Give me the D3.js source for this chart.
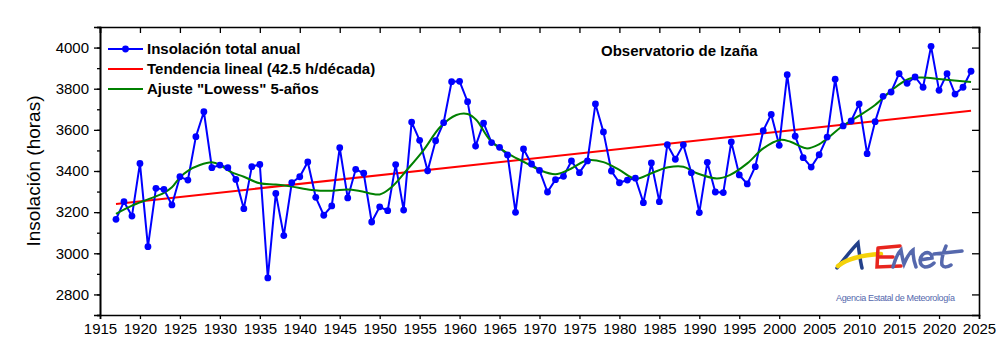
<!DOCTYPE html>
<html>
<head>
<meta charset="utf-8">
<script src="https://cdn.jsdelivr.net/npm/d3@7"></script>
<style>
  body { margin: 0; background: #fff; }
  text { font-family: Arial, "Liberation Sans", sans-serif; }
</style>
</head>
<body>
<div id="chart-area"></div>
<script>

// Annual insolation at Izaña (hours), 1917-2024
var firstYear = 1917
var insolation = [
  3165, 3251, 3181, 3437, 3032, 3316, 3311, 3235, 3372, 3356,
  3567, 3688, 3416, 3429, 3416, 3359, 3217, 3421, 3432, 2880,
  3291, 3086, 3343, 3372, 3444, 3272, 3185, 3230, 3513, 3269,
  3408, 3389, 3152, 3226, 3207, 3431, 3210, 3638, 3549, 3401,
  3547, 3635, 3834, 3836, 3737, 3521, 3633, 3538, 3515, 3478,
  3199, 3507, 3434, 3403, 3298, 3358, 3374, 3449, 3392, 3449,
  3726, 3590, 3400, 3343, 3356, 3365, 3246, 3439, 3251, 3528,
  3457, 3527, 3392, 3198, 3442, 3298, 3295, 3541, 3381, 3337,
  3421, 3596, 3675, 3525, 3868, 3569, 3465, 3419, 3479, 3565,
  3846, 3619, 3643, 3726, 3484, 3640, 3763, 3784, 3873, 3826,
  3857, 3807, 4006, 3792, 3873, 3774, 3807, 3885
]

// linear trend, end points
var trendYears = [1917, 2024]
var trendValues = [3240, 3693]

// "Lowess" 5-year smoothing, sampled along the green curve
var lowessYears = [1917, 1919, 1921, 1923, 1924, 1925, 1926, 1927.5, 1929, 1930,
  1931.3, 1933, 1935, 1937, 1939, 1941.5, 1944, 1946, 1947.5, 1950,
  1951.5, 1953.4, 1955.5, 1957.6, 1959.6, 1961, 1962.1, 1963.8, 1966, 1968,
  1970, 1972, 1973.6, 1976.1, 1978, 1980, 1982, 1984, 1986.1, 1988,
  1989.7, 1992.2, 1993.8, 1996, 1998, 2000.1, 2001.4, 2003.4, 2005, 2006.4,
  2007.8, 2009.8, 2012, 2014.1, 2016.2, 2017.8, 2020.3, 2024]
var lowessValues = [3192, 3232, 3262, 3294, 3321, 3369, 3401, 3429, 3442, 3430,
  3397, 3372, 3340, 3334, 3324, 3308, 3304, 3310, 3303, 3286,
  3322, 3405, 3502, 3615, 3672, 3677, 3648, 3551, 3486, 3445,
  3405, 3384, 3405, 3453, 3443, 3405, 3362, 3389, 3418, 3421,
  3389, 3364, 3380, 3437, 3510, 3551, 3542, 3510, 3530, 3570,
  3615, 3664, 3721, 3794, 3847, 3854, 3846, 3833]

var xTicks = d3.range(1915, 2026, 5)
var yTicks = [2800, 3000, 3200, 3400, 3600, 3800, 4000]
var yMinorTicks = d3.range(2700, 4101, 100)

var legendLabels = ['Insolación total anual', 'Tendencia lineal (42.5 h/década)', 'Ajuste "Lowess" 5-años']
var legendColors = ['#0000ff', '#ff0000', '#008000']

// SVG with margins
var margin = {left:100, right:20, top:27, bottom:46}
var W = 1000, H = 361
var width = W - margin.left - margin.right
var height = H - margin.top - margin.bottom

var svg = d3.select('#chart-area').append('svg')
  .attr('width', W)
  .attr('height', H)

var group = svg.append('g')
  .attr('transform', 'translate(' + margin.left + ',' + margin.top + ')')

// scales
var xScale = d3.scaleLinear().domain([1915, 2025]).range([0, width - 1])
var yScale = d3.scaleLinear().domain([2700, 4100]).range([height, 0])

// bottom axis
group.append('g')
  .attr('transform', 'translate(0,' + height + ')')
  .call(d3.axisBottom(xScale).tickValues(xTicks).tickFormat(d3.format('d')).tickSize(4).tickPadding(4))

// top axis, ticks pointing in
group.append('g')
  .call(d3.axisTop(xScale).tickValues(xTicks).tickFormat('').tickSize(-6))

// left axis with minor ticks
group.append('g')
  .call(d3.axisLeft(yScale).tickValues(yMinorTicks).tickFormat('').tickSize(3))
group.append('g')
  .call(d3.axisLeft(yScale).tickValues(yTicks).tickFormat(d3.format('d')).tickSize(6).tickPadding(5))

// right axis, ticks pointing in
group.append('g')
  .attr('transform', 'translate(' + (width - 1) + ',0)')
  .call(d3.axisRight(yScale).tickValues(yTicks).tickFormat('').tickSize(-7))

group.selectAll('.domain').attr('stroke', '#000').attr('stroke-width', 1.6)
group.selectAll('.tick line').attr('stroke', '#000').attr('stroke-width', 1.3)
group.selectAll('.tick text').attr('font-size', '15px').attr('fill', '#000')
  .style('font-family', 'Arial, "Liberation Sans", sans-serif')

// y label
svg.append('text')
  .attr('transform', 'rotate(-90)')
  .attr('x', -171)
  .attr('y', 40)
  .attr('font-size', '19px')
  .attr('text-anchor', 'middle')
  .attr('fill', '#000')
  .text('Insolación (horas)')

// lines
var line = d3.line()
  .x(function(d){ return xScale(d[0]) })
  .y(function(d){ return yScale(d[1]) })

var obs = insolation.map(function(v, i){ return [firstYear + i, v] })
var trend = trendYears.map(function(y, i){ return [y, trendValues[i]] })
var lowess = lowessYears.map(function(y, i){ return [y, lowessValues[i]] })

group.append('path')
  .attr('d', line(trend))
  .attr('fill', 'none')
  .attr('stroke', legendColors[1])
  .attr('stroke-width', 2)

group.append('path')
  .attr('d', line(obs))
  .attr('fill', 'none')
  .attr('stroke', legendColors[0])
  .attr('stroke-width', 2)

group.append('path')
  .attr('d', line.curve(d3.curveCatmullRom)(lowess))
  .attr('fill', 'none')
  .attr('stroke', legendColors[2])
  .attr('stroke-width', 2)

group.selectAll('circle.obs')
  .data(obs)
  .enter()
  .append('circle')
  .attr('class', 'obs')
  .attr('cx', function(d){ return xScale(d[0]) })
  .attr('cy', function(d){ return yScale(d[1]) })
  .attr('r', 3.4)
  .attr('fill', legendColors[0])

// legend
var legend = svg.append('g').attr('transform', 'translate(108,49)')

legend.selectAll('line')
  .data(legendLabels)
  .enter()
  .append('line')
  .attr('x1', 0).attr('x2', 35)
  .attr('y1', function(d, i){ return i * 20 })
  .attr('y2', function(d, i){ return i * 20 })
  .attr('stroke', function(d, i){ return legendColors[i] })
  .attr('stroke-width', 2)

legend.append('circle')
  .attr('cx', 17.5).attr('cy', 0).attr('r', 3.4)
  .attr('fill', legendColors[0])

legend.selectAll('text')
  .data(legendLabels)
  .enter()
  .append('text')
  .attr('x', 39)
  .attr('y', function(d, i){ return i * 20 + 5 })
  .attr('font-size', '15px')
  .attr('font-weight', 'bold')
  .attr('fill', '#000')
  .text(function(d){ return d })

svg.append('text')
  .attr('x', 601)
  .attr('y', 56)
  .attr('font-size', '15px')
  .attr('font-weight', 'bold')
  .attr('fill', '#000')
  .text('Observatorio de Izaña')

// AEMET logo, rough sketch
var logo = svg.append('g').attr('fill', 'none').attr('stroke-linecap', 'round')
logo.append('path')
  .attr('d', 'M837,268 C845,258 852,249 858,243 C859,251 860,260 862,268')
  .attr('stroke', '#22408a').attr('stroke-width', 3.5)
logo.append('path')
  .attr('d', 'M838,266 C848,258 862,255 881,254')
  .attr('stroke', '#f4d20a').attr('stroke-width', 4.5)
logo.append('path')
  .attr('d', 'M878,248 L900,246 M878,248 L877,267 L901,266 M878,257 L893,257')
  .attr('stroke', '#e8251e').attr('stroke-width', 3.5)
logo.append('path')
  .attr('d', 'M893,267 C895,260 898,253 901,250 C902,256 903,261 904,264 C907,257 910,252 913,250 C913,256 914,262 916,267')
  .attr('stroke', '#5568ad').attr('stroke-width', 3.5)
logo.append('path')
  .attr('d', 'M920,260 L932,258 C932,253 928,252 925,253 C919,256 918,265 925,267 C929,267 932,265 934,263')
  .attr('stroke', '#5568ad').attr('stroke-width', 3.5)
logo.append('path')
  .attr('d', 'M946,246 C943,253 941,260 942,265 C944,268 948,267 951,265 M934,254 L962,251')
  .attr('stroke', '#5568ad').attr('stroke-width', 3.5)

svg.append('text')
  .attr('x', 836)
  .attr('y', 301)
  .attr('font-size', '9px')
  .attr('textLength', 119)
  .attr('fill', '#5568ad')
  .text('Agencia Estatal de Meteorología')

</script>
</body>
</html>
